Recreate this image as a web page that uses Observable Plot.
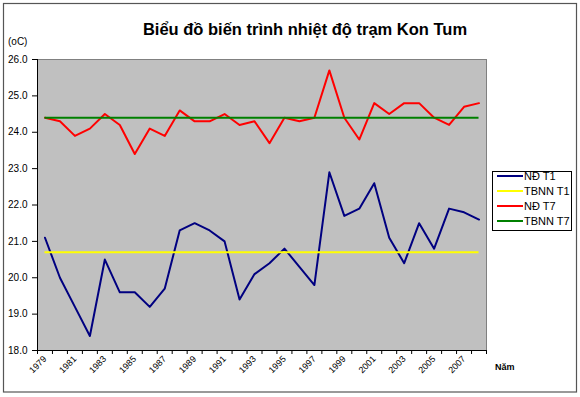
<!DOCTYPE html>
<html><head><meta charset="utf-8">
<script src="https://cdn.jsdelivr.net/npm/d3@7"></script>
<script src="https://cdn.jsdelivr.net/npm/@observablehq/plot@0.6"></script>
<style>body{margin:0;background:#fff;}</style>
</head><body><div id="chart"></div>
<script>
const years = [1979,1980,1981,1982,1983,1984,1985,1986,1987,1988,1989,1990,1991,1992,1993,1994,1995,1996,1997,1998,1999,2000,2001,2002,2003,2004,2005,2006,2007,2008];
const ndT1 = [21.1,20.0,19.2,18.4,20.5,19.6,19.6,19.2,19.7,21.3,21.5,21.3,21.0,19.4,20.1,20.4,20.8,20.3,19.8,22.9,21.7,21.9,22.6,21.1,20.4,21.5,20.8,21.9,21.8,21.6];
const ndT7 = [24.4,24.3,23.9,24.1,24.5,24.2,23.4,24.1,23.9,24.6,24.3,24.3,24.5,24.2,24.3,23.7,24.4,24.3,24.4,25.7,24.4,23.8,24.8,24.5,24.8,24.8,24.4,24.2,24.7,24.8];
const tbnnT1 = 20.7;
const tbnnT7 = 24.4;
const yTicks = [18,19,20,21,22,23,24,25,26];
const xLabelYears = [1979,1981,1983,1985,1987,1989,1991,1993,1995,1997,1999,2001,2003,2005,2007];
const seriesNames = ["NĐ T1","TBNN T1","NĐ T7","TBNN T7"];
const seriesColors = ["#000080","#ffff00","#ff0000","#008000"];
const title = "Biểu đồ biến trình nhiệt độ trạm Kon Tum";
const yUnit = "(oC)";
const xName = "Năm";

const font = "'Liberation Sans', Arial, sans-serif";
const boundaries = years.map(y => y - 0.5).concat([years[years.length-1] + 0.5]);
const rowsT1 = years.map((y,i) => ({year:y, v:ndT1[i]}));
const rowsT7 = years.map((y,i) => ({year:y, v:ndT7[i]}));
const x0 = years[0], x1 = years[years.length-1];

const svg = Plot.plot({
  width: 580, height: 397,
  marginLeft: 37, marginRight: 94, marginTop: 59, marginBottom: 47,
  style: {background: "transparent", fontFamily: font, overflow: "visible", color: "#000"},
  x: {domain: [x0 - 0.5, x1 + 0.5]},
  y: {domain: [18, 26]},
  marks: [
    Plot.frame({fill: "#c0c0c0", stroke: "#808080"}),
    Plot.axisY({ticks: yTicks, tickSize: 5, tickPadding: 5, tickFormat: d3.format(".1f"), fontSize: 10, label: null}),
    Plot.axisX({ticks: boundaries, tickSize: 4, tickFormat: () => "", label: null}),
    Plot.axisX({ticks: xLabelYears, tickSize: 0, tickPadding: 7, tickRotate: -45, tickFormat: d => String(d), fontSize: 9, label: null}),
    Plot.ruleY([18], {stroke: "#000"}),
    Plot.ruleX([x0 - 0.5], {stroke: "#000"}),
    Plot.line(rowsT1, {x: "year", y: "v", stroke: seriesColors[0], strokeWidth: 2}),
    Plot.ruleY([tbnnT1], {x1: x0, x2: x1, stroke: seriesColors[1], strokeWidth: 2}),
    Plot.line(rowsT7, {x: "year", y: "v", stroke: seriesColors[2], strokeWidth: 2}),
    Plot.ruleY([tbnnT7], {x1: x0, x2: x1, stroke: seriesColors[3], strokeWidth: 2})
  ]
});

const s = d3.select(svg);
s.insert("rect", ":first-child").attr("x", 3.5).attr("y", 3.5).attr("width", 573).attr("height", 388.5)
  .attr("fill", "#fff").attr("stroke", "#555").attr("stroke-width", 1.2);
s.append("text").attr("x", 305).attr("y", 35).attr("text-anchor", "middle")
  .attr("font-family", font).attr("font-size", 16.5).attr("font-weight", "bold").text(title);
s.append("text").attr("x", 8).attr("y", 45).attr("text-anchor", "start")
  .attr("font-family", font).attr("font-size", 10).text(yUnit);
s.append("text").attr("x", 495).attr("y", 370).attr("text-anchor", "start")
  .attr("font-family", font).attr("font-size", 9).attr("font-weight", "bold").text(xName);

const lg = s.append("g");
lg.append("rect").attr("x", 492.5).attr("y", 171.5).attr("width", 79).attr("height", 59)
  .attr("fill", "#fff").attr("stroke", "#000");
seriesNames.forEach((n, i) => {
  const yy = 176 + i * 15;
  lg.append("line").attr("x1", 497).attr("x2", 523).attr("y1", yy).attr("y2", yy)
    .attr("stroke", seriesColors[i]).attr("stroke-width", 2);
  lg.append("text").attr("x", 524).attr("y", yy).attr("dy", "0.35em").attr("text-anchor", "start")
    .attr("font-family", font).attr("font-size", 11).text(n);
});

document.getElementById("chart").appendChild(svg);
</script>
</body></html>
